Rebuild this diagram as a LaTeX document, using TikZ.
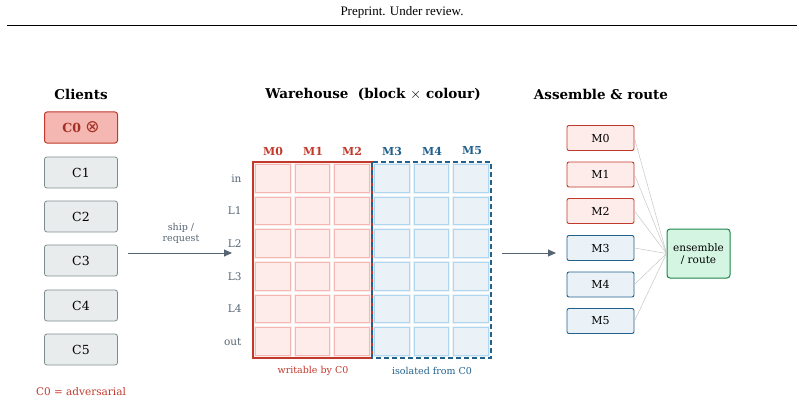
\documentclass[tikz,border=0pt]{standalone}
\usepackage{fontspec}
\setmainfont{DejaVu Serif}
\newfontfamily\hdr{Liberation Serif}
\newfontfamily\symf{DejaVu Sans}
\usetikzlibrary{arrows.meta}
\definecolor{redd}{HTML}{C0392B}
\definecolor{redf}{HTML}{FDECEA}
\definecolor{redc}{HTML}{F5B7B1}
\definecolor{blued}{HTML}{21618C}
\definecolor{bluef}{HTML}{EAF2F8}
\definecolor{bluec}{HTML}{AED6F1}
\definecolor{greyf}{HTML}{E9ECED}
\definecolor{greyd}{HTML}{7F8C8D}
\definecolor{slate}{HTML}{566573}
\definecolor{greend}{HTML}{1E8449}
\definecolor{greenf}{HTML}{D5F5E3}
\begin{document}
\begin{tikzpicture}[x=1pt,y=-1pt,
  client/.style={draw=greyd,fill=greyf,rounded corners=2.5pt,minimum width=73pt,minimum height=31pt,font=\fontsize{12.5}{14}\selectfont,line width=0.8pt},
  mbox/.style={rounded corners=2pt,minimum width=67pt,minimum height=25pt,font=\fontsize{11}{13}\selectfont,line width=0.9pt},
  title/.style={font=\fontsize{13.5}{15}\selectfont\bfseries},
  rowlab/.style={anchor=east,text=slate,font=\fontsize{10.5}{12}\selectfont},
  flow/.style={draw=slate,line width=1pt,-{Triangle[length=8pt,width=7pt]}},
  wire/.style={draw=gray!45,line width=0.5pt}]
\useasboundingbox (0,0) rectangle (804,404);
\node[font=\hdr\fontsize{13}{15}\selectfont] (hdr) at (402,12) {Preprint. Under review.};
\draw[line width=0.5pt] (7,25) -- (797,25);
% clients
\node[title] (tcl) at (81,94) {Clients};
\node[client,draw=redd,fill=redc,text=redd!85!black,font=\fontsize{12.5}{14}\selectfont\bfseries,line width=1pt] (c0) at (81,127.5) {C0 {\symf\fontsize{17}{17}\selectfont\mdseries ⊗}};
\foreach \i/\y in {1/172.5,2/216.5,3/260.5,4/305.5,5/349.5}{
  \node[client] (c\i) at (81,\y) {C\i};}
\node[text=redd,font=\fontsize{10.5}{12}\selectfont] (adv) at (81,392) {C0 = adversarial};
% arrow ship
\coordinate (s1) at (128,253);
\coordinate (s2) at (232,253);
\draw[flow] (s1) -- (s2);
\node[text=slate,font=\fontsize{9.5}{11}\selectfont,align=center] (ship) at (181,233) {ship /\\request};
% warehouse
\node[title] (twh) at (373,94) {Warehouse\ \ (block $\times$ colour)};
\def\cw{39.67}\def\rh{32.67}
\foreach \c in {0,...,5}{
  \ifnum\c<3 \def\cf{redf}\def\cs{redc}\else \def\cf{bluef}\def\cs{bluec}\fi
  \foreach \r in {0,...,5}{
    \fill[\cf] (253+\c*\cw,162+\r*\rh) rectangle ++(\cw,\rh);
    \draw[\cs,line width=0.8pt] (253+\c*\cw+2.5,162+\r*\rh+2.5) rectangle (253+\c*\cw+\cw-2.5,162+\r*\rh+\rh-2.5);
    \draw[white,line width=1.8pt] (253+\c*\cw,162+\r*\rh) rectangle ++(\cw,\rh);
  }}
\draw[redd,line width=1.6pt] (253,162) rectangle (372,358);
\draw[blued,line width=1.6pt,dash pattern=on 5pt off 3pt] (372,162) rectangle (491,358);
\foreach \m/\x in {0/273,1/313,2/352}{
  \node[text=redd,font=\fontsize{11}{13}\selectfont\bfseries] (h\m) at (\x,151) {M\m};}
\foreach \m/\x in {3/392,4/432,5/472}{
  \node[text=blued,font=\fontsize{11}{13}\selectfont\bfseries] (h\m) at (\x,151) {M\m};}
\foreach \l [count=\r from 0] in {in,L1,L2,L3,L4,out}{
  \node[rowlab] (r\r) at (245,178.3+\r*\rh) {\l};}
\node[text=redd,font=\fontsize{9.5}{11}\selectfont] (wr) at (313,371) {writable by C0};
\node[text=blued,font=\fontsize{9.5}{11}\selectfont] (is) at (432,371) {isolated from C0};
% arrow 2
\coordinate (a1) at (502,253);
\coordinate (a2) at (556,253);
\draw[flow] (a1) -- (a2);
% assemble
\node[title] (tas) at (601,94) {Assemble \& route};
\node[draw=greend,fill=greenf,rounded corners=3pt,minimum width=63pt,minimum height=49pt,line width=1pt,align=center,font=\fontsize{10.5}{12}\selectfont,inner sep=1pt] (ens) at (698.5,253.5) {ensemble\\/ route};
\foreach \m/\y in {0/138,1/174.5,2/211,3/248,4/284.5,5/321}{
  \ifnum\m<3 \node[mbox,draw=redd,fill=redf] (m\m) at (600.5,\y) {M\m};
  \else \node[mbox,draw=blued,fill=bluef] (m\m) at (600.5,\y) {M\m};\fi
  \draw[wire] (m\m.east) -- (ens.west);}
\end{tikzpicture}
\end{document}
